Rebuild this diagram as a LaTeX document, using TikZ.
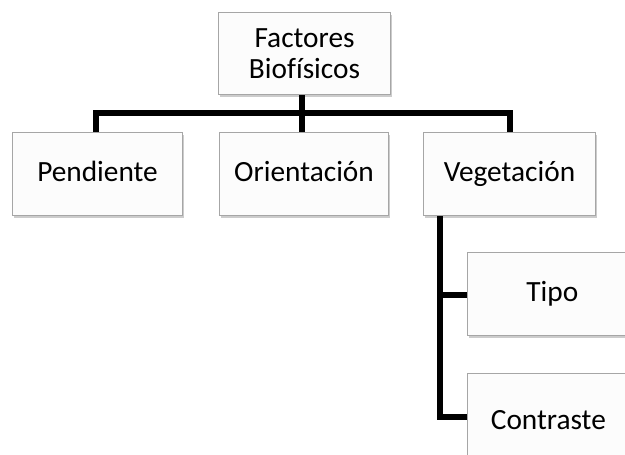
\documentclass[tikz,border=0pt]{standalone}
\usepackage{fontspec}
\setmainfont[Ligatures=NoCommon]{Carlito}
\usetikzlibrary{shadows}
\begin{document}
\begin{tikzpicture}[x=0.75pt,y=-0.75pt,
  box/.style={draw=black!35, line width=0.8pt, fill=black!1, font=\fontsize{22}{26}\selectfont,
    align=center, inner sep=0pt, anchor=north west,
    drop shadow={shadow xshift=1.2pt, shadow yshift=-1.8pt, opacity=0.4, fill=black!50}},
  one/.style={text height=15pt, text depth=4pt},
  conn/.style={line width=3.8pt, draw=black}]
\useasboundingbox (0,0) rectangle (625,454);
\clip (0,0) rectangle (625,454);
\node[box, minimum width=172*0.75pt, minimum height=82*0.75pt] (top) at (218,12) {Factores\\[-3pt]Biofísicos};
\node[box, one, minimum width=170*0.75pt, minimum height=83*0.75pt] (pen) at (12,132) {Pendiente};
\node[box, one, minimum width=169*0.75pt, minimum height=83*0.75pt] (ori) at (219,132) {Orientación};
\node[box, one, minimum width=172*0.75pt, minimum height=83*0.75pt] (veg) at (423,132) {Vegetación};
\node[box, one, minimum width=175*0.75pt, minimum height=83*0.75pt] (tipo) at (467,252) {\hspace*{-4pt}Tipo};
\node[box, one, minimum width=175*0.75pt, minimum height=90*0.75pt] (con) at (467,373) {\hspace*{-10pt}\raisebox{-3pt}{Contraste}};
\coordinate (bar) at (302,113);
\draw[conn] (top.south -| bar) -- (ori.north -| bar);
\draw[conn] (pen.north -| 96,0) -- (96,113) -- (510,113) -- (veg.north -| 510,0);
\draw[conn] (veg.south -| 440,0) -- (440,417) -- (con.west |- 0,417);
\draw[conn] (440,295) -- (tipo.west |- 0,295);
\end{tikzpicture}
\end{document}
